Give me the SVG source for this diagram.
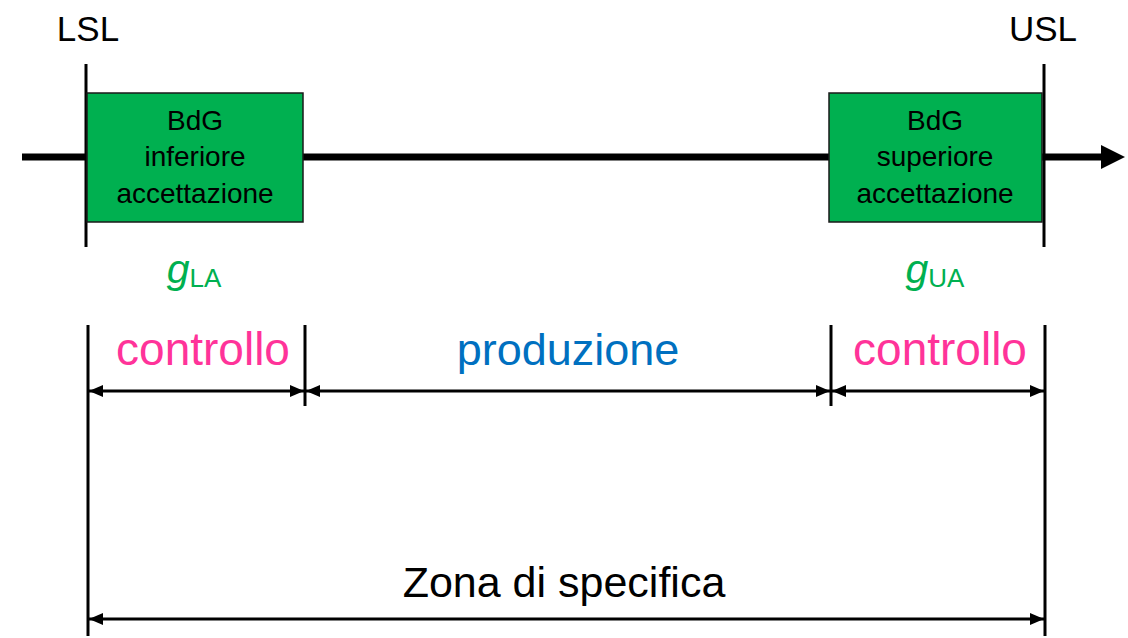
<svg xmlns="http://www.w3.org/2000/svg" width="1128" height="638" viewBox="0 0 1128 638">
<style>
text{font-family:"Liberation Sans",Arial,sans-serif;text-anchor:middle}
.box{fill:#00B050;stroke:#1a1a1a;stroke-width:1.5}
.bt{font-size:28px;fill:#000}
.lim{font-size:35px;fill:#000}
.g{font-size:41px;fill:#00B050}
.sub{font-size:26px;font-style:normal}
.ctl{font-size:46px;fill:#FF3399}
.prod{font-size:45px;fill:#0070C0}
.zona{font-size:43px;fill:#000}
.tick{stroke:#000;stroke-width:3}
.dim{stroke:#000;stroke-width:3;marker-start:url(#ah);marker-end:url(#ah)}
</style>
<defs>
<marker id="ah" viewBox="0 0 14 12" refX="14" refY="6" markerWidth="14" markerHeight="12" markerUnits="userSpaceOnUse" orient="auto-start-reverse"><path d="M0,0L14,6L0,12z" fill="#000"/></marker>
<marker id="big" viewBox="0 0 24 24" refX="0" refY="12" markerWidth="24" markerHeight="24" markerUnits="userSpaceOnUse" orient="auto"><path d="M0,0L24,12L0,24z" fill="#000"/></marker>
</defs>
<g id="connectors">
<line x1="22" y1="157" x2="1101" y2="157" stroke="#000" stroke-width="7" marker-end="url(#big)"/>
<line class="tick" x1="86" y1="64" x2="86" y2="247"/>
<line class="tick" x1="1044" y1="64" x2="1044" y2="247"/>
<line class="tick" x1="88" y1="325" x2="88" y2="636"/>
<line class="tick" x1="305" y1="325" x2="305" y2="406"/>
<line class="tick" x1="831" y1="325" x2="831" y2="406"/>
<line class="tick" x1="1045" y1="325" x2="1045" y2="636"/>
<line class="dim" x1="89" y1="391" x2="304" y2="391"/>
<line class="dim" x1="306" y1="391" x2="830" y2="391"/>
<line class="dim" x1="832" y1="391" x2="1044" y2="391"/>
<line class="dim" x1="89" y1="619" x2="1044" y2="619"/>
</g>
<g id="lsl"><text class="lim" x="88" y="41">LSL</text></g>
<g id="usl"><text class="lim" x="1043" y="41">USL</text></g>
<g id="box-left">
<rect class="box" x="87" y="93" width="216" height="129"/>
<text class="bt" x="195" y="130">BdG</text>
<text class="bt" x="195" y="166">inferiore</text>
<text class="bt" x="195" y="203">accettazione</text>
</g>
<g id="box-right">
<rect class="box" x="829" y="93" width="213" height="129"/>
<text class="bt" x="935" y="130">BdG</text>
<text class="bt" x="935" y="166">superiore</text>
<text class="bt" x="935" y="203">accettazione</text>
</g>
<g id="gla"><text class="g" x="194" y="283"><tspan font-style="italic">g</tspan><tspan class="sub" dy="4">LA</tspan></text></g>
<g id="gua"><text class="g" x="935" y="283"><tspan font-style="italic">g</tspan><tspan class="sub" dy="4">UA</tspan></text></g>
<g id="ctl-left"><text class="ctl" x="203" y="365">controllo</text></g>
<g id="prod"><text class="prod" x="568" y="365">produzione</text></g>
<g id="ctl-right"><text class="ctl" x="940" y="365">controllo</text></g>
<g id="zona"><text class="zona" x="564" y="597">Zona di specifica</text></g>
</svg>
